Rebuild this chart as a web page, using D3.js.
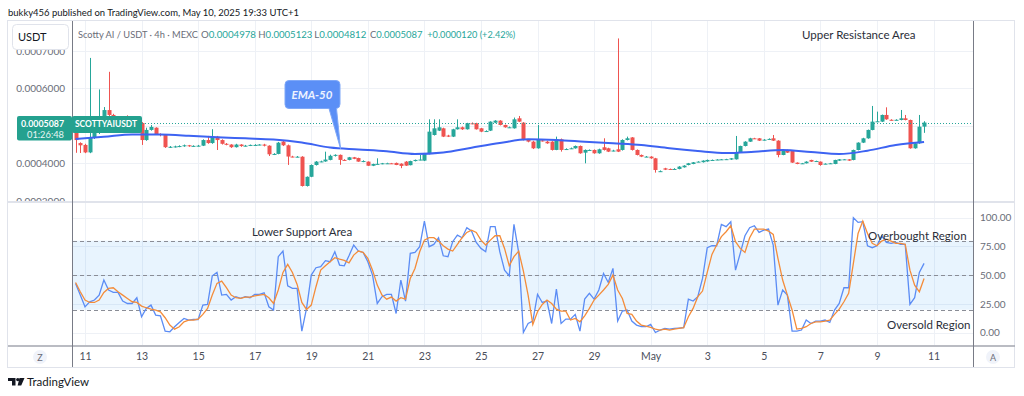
<!DOCTYPE html>
<html>
<head>
<meta charset="utf-8">
<script src="https://cdn.jsdelivr.net/npm/d3@7"></script>
<style>
  body { margin: 0; background: #fff; }
  text { font-family: Lato, "Liberation Sans", sans-serif; }
</style>
</head>
<body>
<svg id="chart" width="1024" height="396"></svg>
<script>
// 4h candles, [open, high, low, close] in units of 0.0000001 USDT, from Apr 10 16:00
var candles = [
  [4950,5000,4280,4620],[4540,4560,4275,4480],[4490,4520,4270,4290],[4290,6810,4270,4700],[4700,4950,4650,4820],
  [4820,5970,4780,5100],[5100,5500,5060,5420],[5420,6440,5250,5290],[5290,5320,5150,5210],[5210,5260,5120,5150],
  [5150,5260,5100,5230],[5230,5280,5120,5160],[5160,5220,5050,5100],[5100,5160,5030,5080],[5075,5100,4490,4620],
  [4620,4950,4600,4890],[4890,5020,4870,4970],[4950,4960,4760,4780],[4780,4800,4720,4760],[4760,4770,4410,4430],
  [4430,4460,4410,4440],[4440,4470,4420,4450],[4450,4480,4430,4460],[4460,4500,4440,4480],[4480,4490,4440,4460],
  [4460,4480,4440,4465],[4465,4490,4450,4470],[4470,4640,4460,4620],[4620,4730,4520,4540],[4540,4910,4520,4710],
  [4710,4730,4355,4620],[4620,4640,4500,4520],[4520,4540,4480,4500],[4500,4510,4410,4430],[4430,4520,4420,4500],
  [4500,4510,4440,4460],[4460,4490,4450,4470],[4470,4500,4460,4490],[4490,4510,4470,4490],[4490,4510,4480,4500],
  [4500,4520,4450,4470],[4470,4480,4195,4240],[4240,4270,4220,4250],[4250,4570,4240,4550],[4580,4600,4460,4480],
  [4480,4500,3956,4180],[4180,4200,4160,4175],[4175,4195,4160,4176],[4176,4190,3380,3395],[3395,3650,3380,3640],
  [3640,3970,3630,3955],[3955,4060,3940,4045],[4045,4070,4030,4050],[4050,4310,4040,4100],[4090,4230,4080,4200],
  [4200,4240,4180,4225],[4225,4235,3960,4090],[4090,4110,4070,4089],[4090,4170,4080,4160],[4160,4170,4110,4120],
  [4140,4150,4040,4045],[4045,4080,4030,4060],[4045,4050,3930,3935],[3935,3990,3925,3980],[3980,4133,3970,3985],
  [3985,4010,3975,4000],[4000,4015,3990,4000],[4000,4010,3985,3995],[4010,4020,3950,3955],[3990,4000,3870,3930],
  [4044,4060,3930,3938],[3950,4070,3945,4060],[4060,4100,4050,4090],[4090,4222,4080,4100],[4071,4260,4060,4249],
  [4249,5173,4240,4844],[4755,5173,4740,4933],[4871,5173,4860,4960],[4933,4950,4700,4711],[4740,4760,4700,4711],
  [4711,4920,4700,4907],[4907,5173,4900,4960],[4960,4980,4890,4907],[4907,5080,4900,5067],[5067,5090,5040,5060],
  [5067,5080,4900,4907],[4933,4945,4830,4844],[4860,4880,4840,4860],[4871,5120,4860,5111],[5084,5150,5070,5138],
  [5138,5150,5010,5022],[5022,5035,4950,4960],[4960,4980,4945,4960],[4933,5220,4925,5173],[5200,5262,5100,5111],
  [5084,5100,4610,4622],[4622,4640,4560,4578],[4578,4600,4380,4400],[4400,5022,4390,4622],[4610,4630,4580,4600],
  [4578,4600,4520,4533],[4578,4590,4340,4356],[4356,4711,4350,4640],[4640,4660,4311,4356],[4370,4400,4360,4380],
  [4390,4420,4380,4400],[4400,4475,4390,4462],[4462,4475,4255,4267],[4284,4370,4000,4356],[4350,4370,4340,4356],
  [4356,4370,4255,4267],[4267,4390,4255,4373],[4427,4667,4340,4356],[4400,4415,4300,4311],[4330,4360,4320,4340],
  [4373,7330,4300,4311],[4356,4640,4340,4622],[4622,4711,4610,4667],[4690,4700,4340,4356],[4356,4370,4210,4222],
  [4222,4235,4165,4178],[4178,4195,4165,4178],[4178,4190,4120,4133],[4133,4145,3751,3822],[3790,3810,3770,3790],
  [3866,3880,3820,3830],[3849,3860,3830,3840],[3845,3870,3835,3849],[3849,3925,3840,3911],[3893,3950,3885,3938],
  [3955,4010,3945,4000],[3982,4035,3975,4026],[4040,4055,4030,4044],[4030,4080,4020,4071],[4050,4100,4040,4089],
  [4089,4100,4080,4089],[4095,4110,4085,4100],[4100,4115,4090,4106],[4106,4120,4095,4110],[4100,4140,4090,4133],
  [4106,4729,4100,4284],[4284,4470,4275,4462],[4462,4590,4450,4577],[4577,4680,4570,4666],[4666,4680,4650,4660],
  [4666,4675,4595,4604],[4620,4645,4610,4630],[4640,4665,4630,4650],[4666,4755,4595,4604],[4604,4615,4160,4222],
  [4222,4365,4215,4355],[4355,4365,4275,4284],[4329,4340,4010,4018],[4018,4025,3975,3982],[3990,4010,3985,4000],
  [4000,4055,3995,4044],[4089,4095,4035,4044],[4050,4070,4040,4060],[4044,4050,3935,3955],[3980,4000,3975,3990],
  [3990,4010,3985,4000],[3982,4095,3975,4089],[4071,4115,4065,4106],[4100,4115,4095,4106],[4106,4112,4065,4071],
  [4089,4365,4080,4355],[4355,4560,4345,4551],[4551,4680,4540,4666],[4666,4900,4655,4889],[4889,5529,4880,5111],
  [5111,5378,5100,5120],[5111,5300,5100,5289],[5289,5493,5160,5173],[5160,5175,5140,5155],[5155,5175,5145,5160],
  [5155,5422,5145,5200],[5200,5289,5145,5155],[5155,5165,4390,4400],[4400,4545,4390,4533],[4533,5289,4520,4977],
  [4978,5123,4812,5087]
];

// EMA-50, one value per day (every 6th candle)
var ema50 = [4650,4705,4770,4765,4735,4695,4665,4635,4555,4420,4370,4320,4250,4290,4417,4541,
  4640,4621,4576,4533,4488,4400,4328,4275,4310,4355,4301,4248,4337,4488,4568];

// oscillator, one value per candle
var stochK = [
  42.8,32.7,22.5,26.9,28.4,32.7,45.8,37.1,35.0,35.0,27.5,25.4,25.4,30.4,13.9,21.1,24.0,15.3,14.7,1.4,
  0.8,5.2,8.9,12.4,11.0,11.5,11.5,24.0,24.6,49.5,52.4,32.7,33.3,28.4,31.3,29.8,31.3,30.4,33.3,33.3,
  34.7,22.5,19.7,66.1,71.0,40.8,38.5,38.5,1.4,21.1,50.1,56.5,57.4,62.6,61.7,70.4,58.8,58.2,66.9,76.2,
  71.0,69.8,61.7,50.1,25.4,31.3,33.3,33.3,16.7,45.8,27.5,69.0,69.8,74.8,97.1,74.8,76.8,82.6,66.9,66.1,
  79.1,84.9,82.6,91.3,88.4,78.5,73.3,70.4,92.2,92.2,70.4,54.4,49.5,94.2,69.8,0.2,8.0,10.1,33.3,26.3,
  27.5,8.0,37.9,8.0,11.8,11.8,15.9,1.4,29.2,34.2,29.2,37.1,51.5,43.7,55.9,10.1,18.8,19.7,10.1,6.6,
  5.2,5.2,7.2,0.2,2.3,3.7,3.1,3.7,4.0,4.3,29.2,27.5,31.3,47.2,73.9,75.6,75.6,94.2,92.2,96.5,
  54.4,69.0,84.3,91.3,93.0,87.2,89.2,90.1,76.2,24.0,37.1,32.7,1.4,1.4,2.3,11.0,8.0,10.1,10.1,11.0,
  8.9,19.7,25.4,39.1,39.1,100.0,95.9,96.5,75.6,73.9,75.6,84.3,78.5,77.7,78.5,76.8,76.8,24.6,30.4,52.4,
  60.3
];
var stochD = [
  43.7,35.6,28.4,26.3,26.3,28.4,35.0,38.5,39.1,35.6,32.7,29.8,26.9,26.3,23.1,21.7,20.5,19.7,18.2,13.0,
  6.6,3.1,5.2,9.5,11.0,11.0,11.8,15.9,21.1,32.7,42.9,44.9,39.1,32.7,30.4,29.8,31.0,31.0,32.1,32.7,
  33.3,30.4,25.4,37.1,52.4,59.4,52.4,42.0,26.3,20.2,24.0,40.0,54.4,58.2,61.7,65.2,64.0,62.9,60.8,67.5,
  71.0,69.8,64.6,54.4,41.4,32.7,29.2,31.0,27.5,30.4,29.2,47.2,55.9,70.4,80.5,82.6,82.6,79.7,75.6,72.7,
  71.0,76.8,82.6,87.2,89.2,87.2,80.5,76.2,80.5,84.3,84.3,73.3,58.2,66.1,71.0,53.6,32.7,7.2,18.2,24.6,
  28.4,25.4,20.5,18.8,18.8,11.0,12.4,9.5,14.7,21.1,28.4,32.7,37.1,42.0,50.1,37.1,29.8,16.8,15.9,10.1,
  6.6,5.7,4.6,3.1,2.3,3.1,2.3,3.1,3.7,4.3,13.9,21.1,31.3,36.2,52.4,68.1,76.2,83.5,87.8,93.0,
  79.1,73.3,69.8,82.6,90.1,90.1,90.1,88.4,85.5,64.6,45.8,32.7,19.7,3.1,3.7,5.2,8.0,9.5,9.5,10.1,
  11.0,15.9,20.5,26.9,34.2,60.3,86.3,97.1,86.3,77.7,75.6,79.7,81.4,79.7,77.7,77.7,76.8,54.4,41.4,35.6,
  47.2
];

var priceTicks = [3000, 4000, 5000, 6000, 7000];
var oscTicks = [0, 25, 50, 75, 100];
var oscLevels = [20, 50, 80];
var dayTicks = ["2025-04-11","2025-04-13","2025-04-15","2025-04-17","2025-04-19","2025-04-21","2025-04-23",
  "2025-04-25","2025-04-27","2025-04-29","2025-05-01","2025-05-03","2025-05-05","2025-05-07","2025-05-09","2025-05-11"];
var lastClose = 5087;
var ohlcHeader = [["O","0.0004978"],["H","0.0005123"],["L","0.0004812"],["C","0.0005087"]];

var up = "#26a69a", down = "#ef5350";
var t0 = Date.UTC(2025, 3, 10, 16);
var H4 = 4 * 3600 * 1000;
var DAY = 24 * 3600 * 1000;

var svg = d3.select("#chart");

var x = d3.scaleUtc()
  .domain([new Date(Date.UTC(2025, 3, 11)), new Date(Date.UTC(2025, 4, 11))])
  .range([85, 933.5]);
var y = d3.scaleLinear().domain([3000, 7000]).range([200.8, 50.8]);
var yo = d3.scaleLinear().domain([0, 100]).range([332.7, 217.7]);
var ticks = dayTicks.map(function(s){ return new Date(s + "T00:00:00Z"); });
var ly = y(lastClose);

var cx = function(i){ return Math.round(x(new Date(t0 + i * H4))) + 0.5; };

var defs = svg.append("defs");
defs.append("clipPath").attr("id", "clipTop").append("rect").attr("x", 73).attr("y", 21).attr("width", 900).attr("height", 180);
defs.append("clipPath").attr("id", "clipBot").append("rect").attr("x", 73).attr("y", 203).attr("width", 900).attr("height", 142);
defs.append("clipPath").attr("id", "clipAxis").append("rect").attr("x", 8).attr("y", 21).attr("width", 64).attr("height", 180);

// grids
var grid = svg.append("g").attr("stroke", "#eef1f6").attr("stroke-width", 1);
ticks.forEach(function(d){
  var gx = Math.round(x(d)) + 0.5;
  grid.append("line").attr("x1", gx).attr("x2", gx).attr("y1", 21).attr("y2", 201);
  grid.append("line").attr("x1", gx).attr("x2", gx).attr("y1", 203).attr("y2", 345);
});
priceTicks.forEach(function(p){
  var gy = Math.round(y(p)) + 0.5;
  if (gy < 200) grid.append("line").attr("x1", 73).attr("x2", 973).attr("y1", gy).attr("y2", gy);
});
oscTicks.forEach(function(v){
  var gy = Math.round(yo(v)) + 0.5;
  grid.append("line").attr("x1", 73).attr("x2", 973).attr("y1", gy).attr("y2", gy);
});

// oscillator band and levels
svg.append("rect").attr("x", 73).attr("width", 900)
  .attr("y", yo(80)).attr("height", yo(20) - yo(80)).attr("fill", "#2196f3").attr("fill-opacity", 0.1);
svg.append("g").selectAll("line").data(oscLevels).join("line")
  .attr("x1", 73).attr("x2", 973)
  .attr("y1", function(d){ return Math.round(yo(d)) + 0.5; }).attr("y2", function(d){ return Math.round(yo(d)) + 0.5; })
  .attr("stroke", "#8a8d96").attr("stroke-dasharray", "4,3");

// candles
var gc = svg.append("g").attr("clip-path", "url(#clipTop)");
gc.selectAll("line.wick").data(candles).join("line").attr("class", "wick")
  .attr("x1", function(d, i){ return cx(i); }).attr("x2", function(d, i){ return cx(i); })
  .attr("y1", function(d){ return y(d[1]); }).attr("y2", function(d){ return y(d[2]); })
  .attr("stroke", function(d){ return d[3] >= d[0] ? up : down; }).attr("stroke-width", 1);
gc.selectAll("rect.body").data(candles).join("rect").attr("class", "body")
  .attr("x", function(d, i){ return cx(i) - 2; }).attr("width", 4)
  .attr("y", function(d){ return y(Math.max(d[0], d[3])); })
  .attr("height", function(d){ return Math.max(1, Math.abs(y(d[0]) - y(d[3]))); })
  .attr("fill", function(d){ return d[3] >= d[0] ? up : down; });

// EMA-50
gc.append("path").datum(ema50)
  .attr("d", d3.line().x(function(d, k){ return x(new Date(t0 + k * DAY)); }).y(function(d){ return y(d); }).curve(d3.curveMonotoneX))
  .attr("fill", "none").attr("stroke", "#3d63f2").attr("stroke-width", 2);

// close price line
svg.append("line").attr("x1", 73).attr("x2", 973)
  .attr("y1", Math.round(ly) + 0.5).attr("y2", Math.round(ly) + 0.5)
  .attr("stroke", up).attr("stroke-dasharray", "1,2");

// oscillator lines
var gb = svg.append("g").attr("clip-path", "url(#clipBot)");
var oscLine = d3.line().x(function(d, i){ return x(new Date(t0 + i * H4)); }).y(function(d){ return yo(d); });
gb.append("path").datum(stochK).attr("d", oscLine).attr("fill", "none").attr("stroke", "#5b8cf5").attr("stroke-width", 1.3);
gb.append("path").datum(stochD).attr("d", oscLine).attr("fill", "none").attr("stroke", "#f48c3a").attr("stroke-width", 1.3);

// frame and separators
svg.append("rect").attr("x", 7.5).attr("y", 20.5).attr("width", 1007).attr("height", 347)
  .attr("fill", "none").attr("stroke", "#e0e3eb");
svg.append("line").attr("x1", 8).attr("x2", 1015).attr("y1", 202).attr("y2", 202).attr("stroke", "#e0e3eb").attr("stroke-width", 2);
svg.append("line").attr("x1", 8).attr("x2", 1015).attr("y1", 346).attr("y2", 346).attr("stroke", "#a3a6af").attr("stroke-width", 1.5);
[72.5, 973.5].forEach(function(lx){
  svg.append("line").attr("x1", lx).attr("x2", lx).attr("y1", 21).attr("y2", 367).attr("stroke", "#787b86");
});

// axes (price labels under the last-price tag are hidden, as on the chart)
var axisStyle = function(g){
  g.select(".domain").remove();
  g.selectAll("text").attr("fill", "#6a6d78").style("font-size", "10px").style("font-family", "Lato, 'Liberation Sans', sans-serif");
};
var shownPriceTicks = priceTicks.filter(function(p){ return Math.abs(y(p) - ly) > 14; });
svg.append("g").attr("clip-path", "url(#clipAxis)")
  .append("g").attr("transform", "translate(72,0)")
  .call(d3.axisLeft(y).tickValues(shownPriceTicks).tickSize(0).tickPadding(7).tickFormat(function(d){ return (d / 1e7).toFixed(7); }))
  .call(axisStyle);
svg.append("g").attr("transform", "translate(973,0)")
  .call(d3.axisRight(yo).tickValues(oscTicks).tickSize(0).tickPadding(7).tickFormat(d3.format(".2f")))
  .call(axisStyle);
svg.append("g").attr("transform", "translate(0,346)")
  .call(d3.axisBottom(x).tickValues(ticks).tickSize(0).tickPadding(7)
    .tickFormat(function(d){ return d.getUTCDate() === 1 ? "May" : d.getUTCDate(); }))
  .call(axisStyle)
  .call(function(g){ g.selectAll("text").attr("fill", "#4a4e5a").style("font-size", "10.5px"); });

// price label
svg.append("rect").attr("x", 17).attr("y", ly - 6.5).attr("width", 55).attr("height", 24.5).attr("rx", 2).attr("fill", "#24a18f");
svg.append("rect").attr("x", 72).attr("y", ly - 6.5).attr("width", 70).attr("height", 17).attr("rx", 2).attr("fill", "#24a18f");
svg.append("text").attr("x", 21).attr("y", ly + 4.5).attr("fill", "#fff")
  .attr("textLength", 43).attr("lengthAdjust", "spacingAndGlyphs")
  .style("font-size", "10px").style("font-weight", "bold").text("0.0005087");
svg.append("text").attr("x", 27).attr("y", ly + 15.5).attr("fill", "#e8f6f3")
  .attr("textLength", 37).attr("lengthAdjust", "spacingAndGlyphs")
  .style("font-size", "10px").text("01:26:48");
svg.append("text").attr("x", 75).attr("y", ly + 4.5).attr("fill", "#fff")
  .attr("textLength", 62).attr("lengthAdjust", "spacingAndGlyphs")
  .style("font-size", "10px").style("font-weight", "bold").text("SCOTTYAIUSDT");

// EMA-50 callout
svg.append("path")
  .attr("d", "M289,80.5 H336 Q340,80.5 340,84.5 V104 Q340,108 336.5,108.5 L340.5,148.5 L329,108.5 H289 Q285,108.5 285,104.5 V84.5 Q285,80.5 289,80.5 Z")
  .attr("fill", "#5b8ff6").attr("stroke", "#7fa8f8").attr("stroke-width", 1);
svg.append("text").attr("x", 312).attr("y", 98.5).attr("text-anchor", "middle").attr("fill", "#eef3ff")
  .style("font-size", "11.5px").style("font-style", "italic").style("font-weight", "bold").text("EMA-50");

// header
svg.append("text").attr("x", 8).attr("y", 16).attr("fill", "#131722").style("font-size", "10px")
  .attr("textLength", 291).attr("lengthAdjust", "spacingAndGlyphs")
  .text("bukky456 published on TradingView.com, May 10, 2025 19:33 UTC+1");
svg.append("rect").attr("x", 12.5).attr("y", 24.5).attr("width", 56).attr("height", 25).attr("rx", 4)
  .attr("fill", "#fff").attr("stroke", "#e0e3eb");
svg.append("text").attr("x", 18).attr("y", 41).attr("fill", "#131722").style("font-size", "11px").text("USDT");
svg.append("text").attr("x", 78).attr("y", 37.5).attr("fill", "#6a6d78").style("font-size", "9.5px")
  .attr("textLength", 120).attr("lengthAdjust", "spacingAndGlyphs")
  .text("Scotty AI / USDT \u00b7 4h \u00b7 MEXC");
var hx = [201, 258.3, 314.3, 370], hw = [55, 54, 52, 52.5];
ohlcHeader.forEach(function(d, i){
  var t = svg.append("text").attr("x", hx[i]).attr("y", 37.5).style("font-size", "9.5px")
    .attr("textLength", hw[i]).attr("lengthAdjust", "spacingAndGlyphs");
  t.append("tspan").attr("fill", "#6a6d78").text(d[0]);
  t.append("tspan").attr("fill", up).text(d[1]);
});
svg.append("text").attr("x", 427.3).attr("y", 37.5).attr("fill", up).style("font-size", "9.5px")
  .attr("textLength", 88).attr("lengthAdjust", "spacingAndGlyphs").text("+0.0000120 (+2.42%)");

// annotations
var notes = [
  ["Upper Resistance Area", 802, 39],
  ["Lower Support Area", 252, 235.5],
  ["Overbought Region", 868, 240],
  ["Oversold Region", 887, 329]
];
svg.append("g").selectAll("text").data(notes).join("text")
  .attr("x", function(d){ return d[1]; }).attr("y", function(d){ return d[2]; })
  .attr("fill", "#2a2e39").style("font-size", "11.5px").text(function(d){ return d[0]; });

// corner buttons
[[40, "Z"], [993, "A"]].forEach(function(b){
  svg.append("circle").attr("cx", b[0]).attr("cy", 357).attr("r", 7).attr("fill", "#f0f3fa");
  svg.append("text").attr("x", b[0]).attr("y", 360.5).attr("text-anchor", "middle").attr("fill", "#6a6d78")
    .style("font-size", "9px").text(b[1]);
});

// TradingView logo
var logo = svg.append("g").attr("fill", "#131722");
logo.append("path").attr("d", "M8,378 H15.5 V385.5 H12 V381 H8 Z");
logo.append("circle").attr("cx", 17.8).attr("cy", 379.6).attr("r", 1.7);
logo.append("path").attr("d", "M19.5,378 H24.5 L21.2,385.5 H17.6 Z");
svg.append("text").attr("x", 27).attr("y", 385.5).attr("fill", "#131722").style("font-size", "11.5px").text("TradingView");
</script>
</body>
</html>
